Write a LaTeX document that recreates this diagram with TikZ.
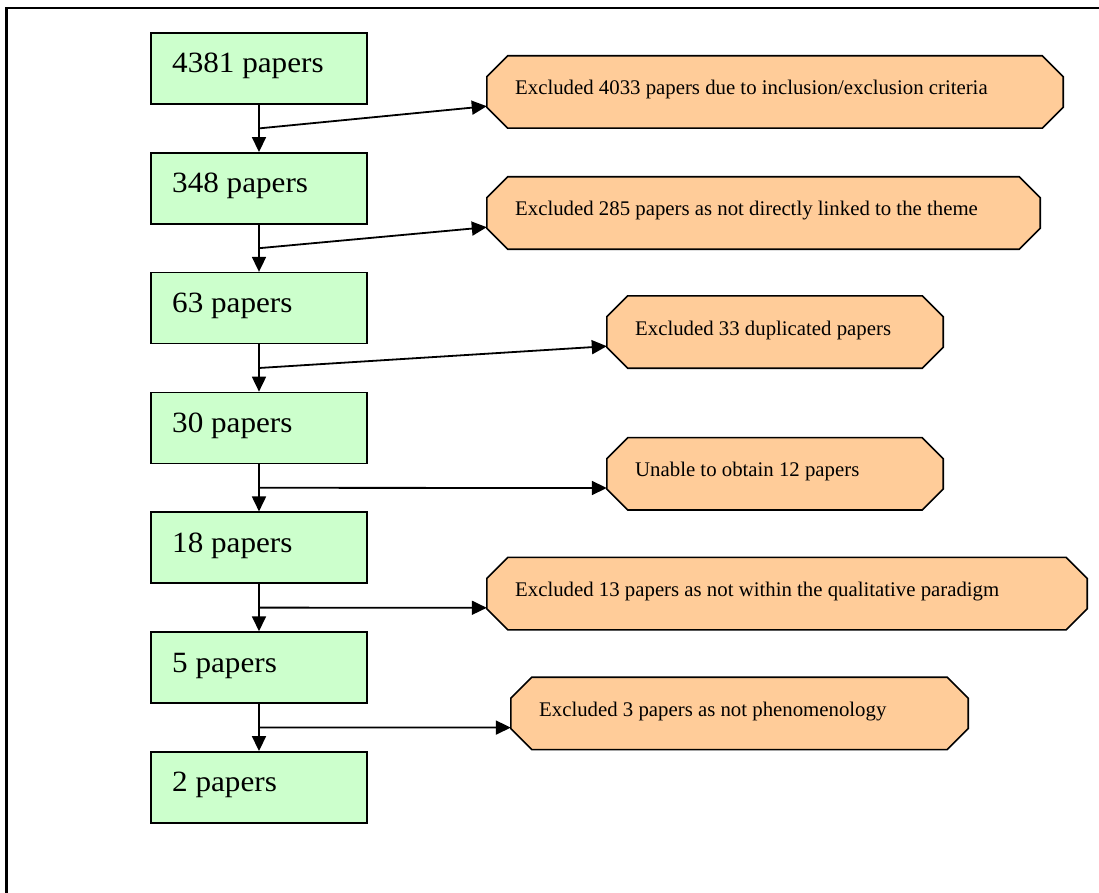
\documentclass[tikz,border=0pt]{standalone}
\usepackage{fontspec}
\setmainfont{Liberation Serif}[FakeStretch=1.06]
\newfontfamily\notefont{Liberation Serif}
\usetikzlibrary{arrows.meta,calc,backgrounds}
\definecolor{stagegreen}{HTML}{CCFFCC}
\definecolor{droporange}{HTML}{FFCC99}

% chamfered outline around a rectangular node
\newcommand\octoframe[1]{%
  \filldraw[octo]
    ($(#1.north west)+(21,0)$) -- ($(#1.north east)+(-21,0)$) --
    ($(#1.north east)+(0,21)$) -- ($(#1.south east)+(0,-21)$) --
    ($(#1.south east)+(-21,0)$) -- ($(#1.south west)+(21,0)$) --
    ($(#1.south west)+(0,-21)$) -- ($(#1.north west)+(0,21)$) -- cycle;}

\begin{document}
\begin{tikzpicture}[x=1pt,y=-1pt,
  stage/.style={draw=black, line width=1.5pt, fill=stagegreen,
    minimum width=216pt, minimum height=71pt, inner sep=0pt},
  stagetext/.style={anchor=base west, inner sep=0pt,
    font=\fontsize{29.4}{33}\selectfont},
  dropbox/.style={minimum height=72pt, inner sep=0pt},
  droptext/.style={anchor=base west, inner sep=0pt,
    font=\notefont\fontsize{20.8}{25}\selectfont},
  flow/.style={line width=1.8pt, -{Triangle[length=15pt,width=14pt]}},
  octo/.style={draw=black, line width=1.6pt, fill=droporange, line join=miter},
  frame/.style={line width=2.4pt}
]
\useasboundingbox (0,0) rectangle (1099,893);

% page frame (top and left edges)
\coordinate (fa) at (6.5,893);
\coordinate (fb) at (6.5,8);
\coordinate (fc) at (1099,8);
\draw[frame] (fa) -- (fb) -- (fc);

% screening stages
\node[stage] (b1) at (259, 68.5) {};
\node[stage] (b2) at (259,188.3) {};
\node[stage] (b3) at (259,308.1) {};
\node[stage] (b4) at (259,427.9) {};
\node[stage] (b5) at (259,547.7) {};
\node[stage] (b6) at (259,667.5) {};
\node[stage] (b7) at (259,787.3) {};

\node[stagetext] (l1) at (172, 73.0) {4381 papers};
\node[stagetext] (l2) at (172,192.8) {348 papers};
\node[stagetext] (l3) at (172,312.6) {63 papers};
\node[stagetext] (l4) at (172,432.4) {30 papers};
\node[stagetext] (l5) at (172,552.2) {18 papers};
\node[stagetext] (l6) at (172,672.0) {5 papers};
\node[stagetext] (l7) at (172,791.8) {2 papers};

% exclusion boxes
\node[dropbox, minimum width=576pt] (o1) at (775, 92) {};
\node[dropbox, minimum width=553pt] (o2) at (763.5,213) {};
\node[dropbox, minimum width=336pt] (o3) at (775,332) {};
\node[dropbox, minimum width=336pt] (o4) at (775,473.8) {};
\node[dropbox, minimum width=600pt] (o5) at (787,593.6) {};
\node[dropbox, minimum width=457pt] (o6) at (739.5,713.4) {};

\begin{pgfonlayer}{background}
  \octoframe{o1}\octoframe{o2}\octoframe{o3}
  \octoframe{o4}\octoframe{o5}\octoframe{o6}
\end{pgfonlayer}

\node[droptext] (t1) at (515, 95) {Excluded 4033 papers due to inclusion/exclusion criteria};
\node[droptext] (t2) at (515,216) {Excluded 285 papers as not directly linked to the theme};
\node[droptext] (t3) at (635,335) {Excluded 33 duplicated papers};
\node[droptext] (t4) at (635,476.8) {Unable to obtain 12 papers};
\node[droptext] (t5) at (515,596.6) {Excluded 13 papers as not within the qualitative paradigm};
\node[droptext] (t6) at (539,716.4) {Excluded 3 papers as not phenomenology};

% main flow
\draw[flow] (b1.south) -- (b2.north);
\draw[flow] (b2.south) -- (b3.north);
\draw[flow] (b3.south) -- (b4.north);
\draw[flow] (b4.south) -- (b5.north);
\draw[flow] (b5.south) -- (b6.north);
\draw[flow] (b6.south) -- (b7.north);

% branch points and exclusion arrows
\foreach \i/\j in {1/2,2/3,3/4,4/5,5/6,6/7}{
  \coordinate (j\i) at ($(b\i.south)!0.5!(b\j.north)$);
  \coordinate (e\i) at ($(o\i.south west)+(0,-22)$);
  \draw[flow] (j\i) -- (e\i);
}
\end{tikzpicture}
\end{document}
